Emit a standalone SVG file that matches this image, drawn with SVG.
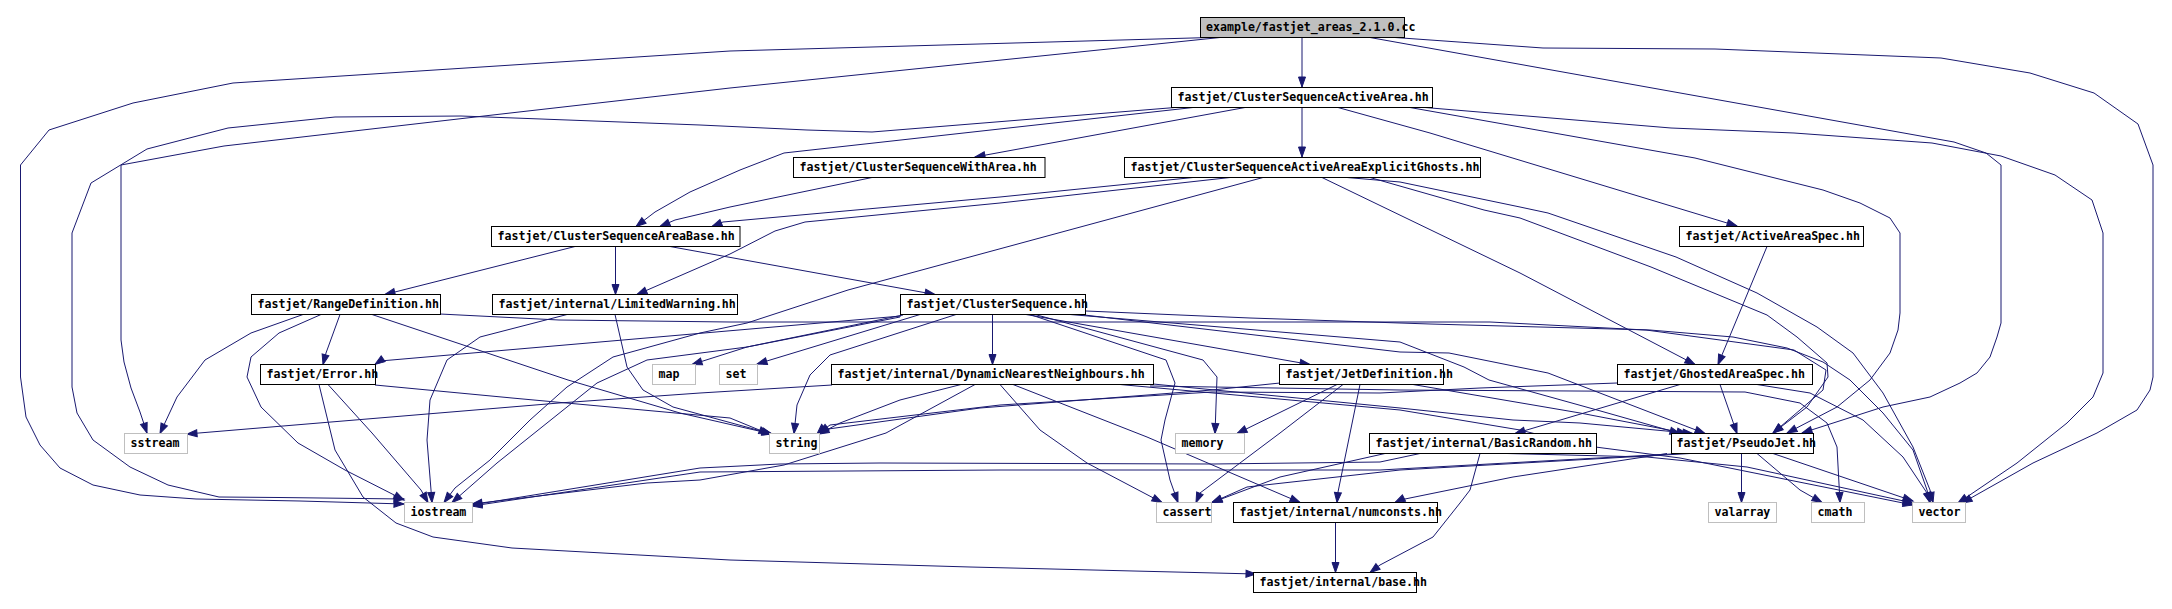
<svg xmlns="http://www.w3.org/2000/svg" width="2172" height="609" viewBox="0 0 2172 609">
<style>
.n rect{fill:#fff;stroke:#000;stroke-width:1}
.x rect{fill:#fff;stroke:#bfbfbf;stroke-width:1}
.r rect{fill:#bfbfbf;stroke:#000;stroke-width:1}
text{font-family:"DejaVu Sans Mono","Liberation Mono",monospace;font-size:11.6px;font-weight:bold;fill:#000}
.e path{fill:none;stroke:#191970;stroke-width:1;marker-end:url(#a)}
</style>
<defs>
<marker id="a" markerWidth="12" markerHeight="9" refX="10" refY="3.5" orient="auto" markerUnits="userSpaceOnUse" overflow="visible"><path d="M0,0 L10,3.5 L0,7 z" fill="#191970" stroke="#191970" stroke-width="1"/></marker>
</defs>
<rect width="2172" height="609" fill="#fff"/>
<g class="e" id="edges">
<path d="M1302,37.5 L1302,87"/>
<path d="M1210,37.5 L730,51 L233,83 L133,103 L49,130 L20.5,165 L20.5,377 L26,417 L40,445 L60,468 L93,485 L140,495 L196,499 L300,501 L404,504"/>
<path d="M1220,37.5 L730,88 L484,116 L224,146 L121,165 L121,340 L124,362 L131,388 L140,412 L147,433"/>
<path d="M1395,37.5 L1543,48 L1715,49 L1941,58 L2030,73 L2094,93 L2138,124 L2153,165 L2153,377 L2150,390 L2137,410 L2097,433 L2033,463 L1962,503"/>
<path d="M1370,37.5 L1954,142 L1986,153 L2001,165 L2001,323 L1997,337 L1990,357 L1977,373 L1960,383 L1930,397 L1883,407 L1802,433"/>
<path d="M1175,107.5 L872,132 L807,130 L700,125 L461,116 L335,117 L228,128 L147,149 L91,183 L72,233 L72,387 L77,413 L93,440 L130,467 L168,485 L219,497 L279,497.5 L404,499"/>
<path d="M1193,107.5 L784,153 L740,170 L690,192 L655,212 L636,226.5"/>
<path d="M1245,107.5 L975,157"/>
<path d="M1302,107.5 L1302,157"/>
<path d="M1338,107.5 L1430,133 L1737,226"/>
<path d="M1410,107.5 L1695,158 L1823,190 L1860,203 L1890,218 L1900,233 L1900,313 L1898,330 L1890,353 L1870,380 L1837,407 L1787,433"/>
<path d="M1425,107.5 L1671,128 L1794,133 L1932,143 L2001,156 L2055,175 L2092,200 L2103,233 L2103,373 L2093,397 L2067,423 L2017,463 L1958,503"/>
<path d="M872,177.5 L730,207 L675,220 L660,226.5"/>
<path d="M1193,177.5 L1000,197 L723,222 L712,226.5"/>
<path d="M1230,177.5 L1000,203 L805,222 L775,231 L730,254 L637,294.5"/>
<path d="M1263,177.5 L848,290 L747,323 L700,333 L613,357 L567,387 L530,420 L490,460 L455,488 L444,502.5"/>
<path d="M1322,177.5 L1520,273 L1695,364.5"/>
<path d="M1347,177.5 L1400,182 L1520,207 L1548,213 L1676,257 L1757,293 L1817,327 L1853,353 L1883,393 L1913,447 L1930,490 L1933,502.5"/>
<path d="M1370,177.5 L1484,210 L1520,218 L1651,267 L1767,315 L1797,337 L1827,363 L1828,377 L1807,407 L1773,433"/>
<path d="M575,246.5 L385,294.5"/>
<path d="M615.5,246.5 L615.5,294.5"/>
<path d="M670,246.5 L935,294.5"/>
<path d="M1767,246.5 L1718,364.5"/>
<path d="M303,314.5 L251,333 L205,360 L177,397 L160,433.5"/>
<path d="M321,314.5 L279,333 L251,357 L247,377 L261,407 L298,443 L345,470 L404,500"/>
<path d="M340,314.5 L326,353 L323,364.5"/>
<path d="M372,314.5 L568,380 L680,413 L772,434"/>
<path d="M440,314 L559,320 L730,322 L1490,322 L1646,330 L1794,350 L1826,370 L1823,390 L1800,410 L1773,433"/>
<path d="M567,314.5 L480,337 L447,360 L430,400 L427,440 L431,490 L432,502.5"/>
<path d="M615,314.5 L627,367 L643,390 L673,407 L772,434"/>
<path d="M901,316 L380,361 L375,364.5"/>
<path d="M903,315 L747,347 L692,364.5"/>
<path d="M920,314.5 L757,364"/>
<path d="M900,317 L747,347 L647,360 L597,383 L547,423 L497,463 L452,502.5"/>
<path d="M956,314.5 L830,355 L810,375 L797,405 L794,433.5"/>
<path d="M992.5,314.5 L992.5,364.5"/>
<path d="M1030,314.5 L1166,360 L1175,383 L1165,420 L1161,440 L1170,480 L1178,502.5"/>
<path d="M1035,314.5 L1203,360 L1217,377 L1215,433.5"/>
<path d="M1026,314.5 L1310,364.5"/>
<path d="M1070,314.5 L1400,342 L1464,367 L1489,380 L1597,410 L1680,433.5"/>
<path d="M1086,311 L1250,318 L1430,324 L1650,330 L1733,337 L1787,348 L1823,362 L1850,380 L1883,413 L1913,450 L1927,490 L1930,502.5"/>
<path d="M1080,314.5 L1400,352 L1449,353 L1548,373 L1705,433.5"/>
<path d="M1150,386 L1400,390 L1745,392 L1800,403 L1827,423 L1837,447 L1840,502.5"/>
<path d="M1153,384 L1400,408 L1513,420 L1580,423 L1693,433.5"/>
<path d="M1413,384.5 L1580,413 L1687,433.5"/>
<path d="M1280,383 L1212,390 L980,408 L821,430 L817,434"/>
<path d="M1617,383 L1480,388 L1380,393 L1212,392 L1000,405 L830,425 L819,433"/>
<path d="M961,384.5 L900,400 L840,423 L819,434"/>
<path d="M1337,384.5 L1237,433.5"/>
<path d="M1343,384.5 L1280,433 L1200,493 L1196,502.5"/>
<path d="M1360,384.5 L1338,492 L1337,502.5"/>
<path d="M1000,384.5 L1040,430 L1087,463 L1162,502.5"/>
<path d="M1013,384.5 L1147,437 L1300,502.5"/>
<path d="M975,384.5 L886,433 L784,465 L700,480 L647,483 L472,504"/>
<path d="M832,385 L700,393 L559,403 L187,434"/>
<path d="M1120,384.5 L1400,410 L1520,430 L1580,445 L1680,458 L1913,505"/>
<path d="M328,384.5 L372,433 L421,490 L428,502.5"/>
<path d="M375,385 L512,398 L730,418 L769,434"/>
<path d="M319,384.5 L335,450 L363,497 L396,523 L433,537 L512,548 L730,560 L970,567 L1256,574"/>
<path d="M1480,453.5 L1470,490 L1460,503 L1433,537 L1380,565 L1370,572.5"/>
<path d="M1335.5,522.5 L1335.5,572.5"/>
<path d="M1385,453.5 L1280,477 L1212,502.5"/>
<path d="M1420,453.5 L1380,462 L1213,464 L880,463 L780,464 L700,468 L472,505"/>
<path d="M1507,453.5 L1647,457 L1747,467 L1913,503"/>
<path d="M1741.5,453.5 L1741.5,502.5"/>
<path d="M1757,453.5 L1800,490 L1822,502.5"/>
<path d="M1773,453.5 L1913,501"/>
<path d="M1680,453.5 L1380,470 L1000,470 L700,472 L472,506"/>
<path d="M1690,453.5 L1400,470 L1247,487 L1212,502.5"/>
<path d="M1667,453.5 L1513,477 L1400,500 L1395,502.5"/>
<path d="M1720,384.5 L1737,433.5"/>
<path d="M1680,384.5 L1515,433.5"/>
<path d="M1757,384.5 L1810,393 L1863,420 L1903,457 L1927,493 L1930,502.5"/>
</g>
<g id="n_cc" class="r"><rect x="1200.5" y="17.5" width="204" height="20"/><text x="1206" y="31">example/fastjet_areas_2.1.0.cc</text></g>
<g id="n_csaa" class="n"><rect x="1171.5" y="87.5" width="261" height="20"/><text x="1177.5" y="101">fastjet/ClusterSequenceActiveArea.hh</text></g>
<g id="n_cswa" class="n"><rect x="793.5" y="157.5" width="251.5" height="20"/><text x="799.5" y="171">fastjet/ClusterSequenceWithArea.hh</text></g>
<g id="n_csaaeg" class="n"><rect x="1124.5" y="157.5" width="356" height="20"/><text x="1130.5" y="171">fastjet/ClusterSequenceActiveAreaExplicitGhosts.hh</text></g>
<g id="n_csab" class="n"><rect x="491.5" y="226.5" width="248.5" height="20"/><text x="497.5" y="240">fastjet/ClusterSequenceAreaBase.hh</text></g>
<g id="n_aas" class="n"><rect x="1679.5" y="226.5" width="184" height="20"/><text x="1685.5" y="240">fastjet/ActiveAreaSpec.hh</text></g>
<g id="n_rd" class="n"><rect x="251.5" y="294.5" width="189" height="20"/><text x="257.5" y="308">fastjet/RangeDefinition.hh</text></g>
<g id="n_lw" class="n"><rect x="492.5" y="294.5" width="245" height="20"/><text x="498.5" y="308">fastjet/internal/LimitedWarning.hh</text></g>
<g id="n_cs" class="n"><rect x="900.5" y="294.5" width="185" height="20"/><text x="906.5" y="308">fastjet/ClusterSequence.hh</text></g>
<g id="n_err" class="n"><rect x="260.5" y="364.5" width="115" height="20"/><text x="266.5" y="378">fastjet/Error.hh</text></g>
<g id="n_map" class="x"><rect x="652.5" y="364.5" width="43" height="20"/><text x="658.5" y="378">map</text></g>
<g id="n_set" class="x"><rect x="719.5" y="364.5" width="38" height="20"/><text x="725.5" y="378">set</text></g>
<g id="n_dnn" class="n"><rect x="831.5" y="364.5" width="322" height="20"/><text x="837.5" y="378">fastjet/internal/DynamicNearestNeighbours.hh</text></g>
<g id="n_jd" class="n"><rect x="1279.5" y="364.5" width="164" height="20"/><text x="1285.5" y="378">fastjet/JetDefinition.hh</text></g>
<g id="n_gas" class="n"><rect x="1617.5" y="364.5" width="195" height="20"/><text x="1623.5" y="378">fastjet/GhostedAreaSpec.hh</text></g>
<g id="n_sstream" class="x"><rect x="124.5" y="433.5" width="63" height="20"/><text x="130.5" y="447">sstream</text></g>
<g id="n_string" class="x"><rect x="769.5" y="433.5" width="50" height="20"/><text x="775.5" y="447">string</text></g>
<g id="n_memory" class="x"><rect x="1175.5" y="433.5" width="69" height="20"/><text x="1181.5" y="447">memory</text></g>
<g id="n_br" class="n"><rect x="1369.5" y="433.5" width="227" height="20"/><text x="1375.5" y="447">fastjet/internal/BasicRandom.hh</text></g>
<g id="n_pj" class="n"><rect x="1671.5" y="433.5" width="142" height="20"/><text x="1676.5" y="447">fastjet/PseudoJet.hh</text></g>
<g id="n_iostream" class="x"><rect x="404.5" y="502.5" width="68" height="20"/><text x="410.5" y="516">iostream</text></g>
<g id="n_cassert" class="x"><rect x="1156.5" y="502.5" width="55" height="20"/><text x="1162.5" y="516">cassert</text></g>
<g id="n_nc" class="n"><rect x="1233.5" y="502.5" width="204" height="20"/><text x="1239.5" y="516">fastjet/internal/numconsts.hh</text></g>
<g id="n_valarray" class="x"><rect x="1708.5" y="502.5" width="68" height="20"/><text x="1714.5" y="516">valarray</text></g>
<g id="n_cmath" class="x"><rect x="1811.5" y="502.5" width="53" height="20"/><text x="1817.5" y="516">cmath</text></g>
<g id="n_vector" class="x"><rect x="1912.5" y="502.5" width="53" height="20"/><text x="1918.5" y="516">vector</text></g>
<g id="n_base" class="n"><rect x="1253.5" y="572.5" width="163" height="20"/><text x="1259.5" y="586">fastjet/internal/base.hh</text></g>
</svg>
